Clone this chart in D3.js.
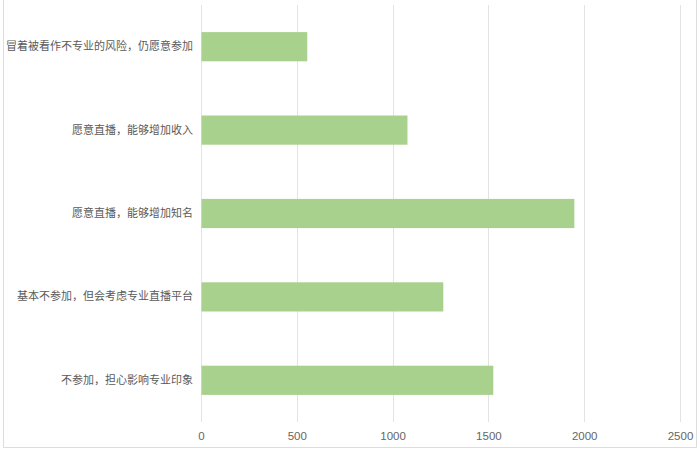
<!DOCTYPE html>
<html>
<head>
<meta charset="utf-8">
<script src="https://cdn.jsdelivr.net/npm/d3@7"></script>
<style>
  body { margin: 0; background: #fff; }
  svg { display: block; }
</style>
</head>
<body>
<div id="chart"></div>
<script>
// categories top to bottom
var categories = [
    "冒着被看作不专业的风险，仍愿意参加",
    "愿意直播，能够增加收入",
    "愿意直播，能够增加知名",
    "基本不参加，但会考虑专业直播平台",
    "不参加，担心影响专业印象"
];
var values = [552, 1075, 1946, 1262, 1523];
var xTicks = [0, 500, 1000, 1500, 2000, 2500];

var svgWidth = 700;
var svgHeight = 451;
var margin = {top: 5, right: 20, bottom: 29, left: 201};
var width = 680 - margin.left;
var height = 422 - margin.top;

var svg = d3.select("#chart")
    .append("svg")
    .attr("width", svgWidth)
    .attr("height", svgHeight);

// light frame round the picture
svg.append("path")
    .attr("d", "M3.5,0 V447.5 H696.5 V0")
    .attr("fill", "none")
    .attr("stroke", "#dcdcdc");

var chart = svg.append("g")
    .attr("transform", `translate(${margin.left}, ${margin.top})`);

var x = d3.scaleLinear()
    .domain([0, 2500])
    .range([0, width]);

var y = d3.scaleBand()
    .domain(categories)
    .range([0, height])
    .paddingInner(0.65)
    .paddingOuter(0.325);

// grid lines
chart.selectAll(".grid")
    .data(xTicks)
    .enter()
    .append("line")
    .attr("class", "grid")
    .attr("x1", d => Math.round(x(d)) + 0.5)
    .attr("x2", d => Math.round(x(d)) + 0.5)
    .attr("y1", 0)
    .attr("y2", height)
    .attr("stroke", "#e3e3e3");

// bars
chart.selectAll(".bar")
    .data(values)
    .enter()
    .append("rect")
    .attr("class", "bar")
    .attr("x", x(0) + 0.5)
    .attr("y", (d, i) => y(categories[i]))
    .attr("width", d => x(d) - x(0))
    .attr("height", y.bandwidth())
    .attr("fill", "#a9d18e");

// x axis labels, no thousands comma
var xAxis = d3.axisBottom(x)
    .tickValues(xTicks)
    .tickFormat(d3.format("d"))
    .tickSize(0)
    .tickPadding(10);
var gx = chart.append("g")
    .attr("transform", `translate(0,${height})`)
    .call(xAxis);
gx.select(".domain").remove();
gx.selectAll("text")
    .attr("fill", "#666")
    .style("font-family", "'Liberation Sans', Arial, sans-serif")
    .style("font-size", "11.5px");

// category labels
var yAxis = d3.axisLeft(y).tickSize(0).tickPadding(8);
var gy = chart.append("g").call(yAxis);
gy.select(".domain").remove();
gy.selectAll("text")
    .attr("fill", "#5a5a5a")
    .style("font-family", "'Noto Sans CJK SC', sans-serif")
    .style("font-size", "11px");
</script>
</body>
</html>
